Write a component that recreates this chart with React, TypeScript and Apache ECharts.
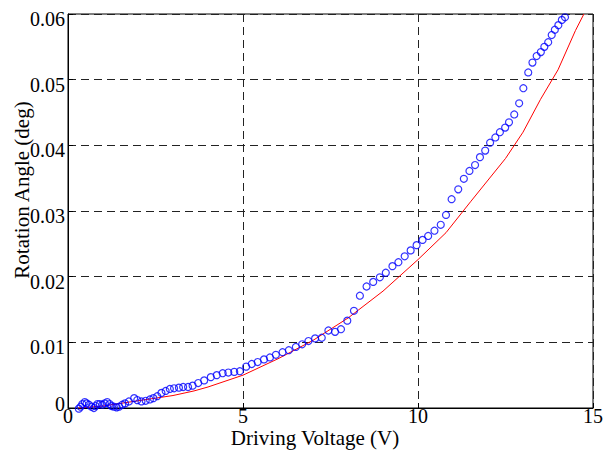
import React, { useEffect, useRef } from "react";
import * as echarts from "echarts";

const measuredX = [
  0.31, 0.36, 0.41, 0.48, 0.53, 0.6, 0.67, 0.74, 0.79, 0.84,
  0.91, 0.98, 1.05, 1.12, 1.19, 1.24, 1.31, 1.39, 1.46, 1.55,
  1.63, 1.74, 1.89, 1.98, 2.1, 2.22, 2.34, 2.44, 2.55, 2.67,
  2.79, 2.91, 3.03, 3.17, 3.29, 3.43, 3.56, 3.72, 3.89, 4.08,
  4.25, 4.42, 4.58, 4.75, 4.91, 5.09, 5.25, 5.42, 5.6, 5.77,
  5.94, 6.13, 6.31, 6.51, 6.69, 6.87, 7.06, 7.25, 7.44, 7.63,
  7.8, 7.98, 8.17, 8.34, 8.53, 8.72, 8.91, 9.08, 9.27, 9.44,
  9.62, 9.79, 9.96, 10.13, 10.29, 10.47, 10.65, 10.8, 10.96, 11.15,
  11.31, 11.47, 11.63, 11.77, 11.92, 12.06, 12.21, 12.34, 12.49, 12.6,
  12.75, 12.89, 13.01, 13.15, 13.27, 13.39, 13.51, 13.61, 13.72, 13.82,
  13.91, 14.01, 14.11, 14.2,
];
const measuredY = [
  -0.0001, 0.0002, 0.0006, 0.0009, 0.0007, 0.0005, 0.0002, 0.0, 0.0003, 0.0006,
  0.0006, 0.0005, 0.0007, 0.0009, 0.0006, 0.0003, 0.0002, 0.0001, 0.0002, 0.0005,
  0.0007, 0.001, 0.0015, 0.0012, 0.001, 0.0011, 0.0013, 0.0015, 0.0018, 0.0023,
  0.0026, 0.0029, 0.003, 0.0031, 0.0032, 0.0032, 0.0034, 0.0038, 0.0042, 0.0047,
  0.005, 0.0053, 0.0054, 0.0055, 0.0056, 0.0063, 0.0067, 0.007, 0.0074, 0.0077,
  0.0081, 0.0085, 0.0088, 0.0093, 0.0097, 0.0102, 0.0106, 0.0107, 0.0118, 0.0116,
  0.012, 0.0133, 0.0148, 0.0171, 0.0185, 0.0192, 0.0199, 0.0206, 0.0216, 0.0222,
  0.0231, 0.024, 0.0248, 0.0256, 0.0262, 0.027, 0.0279, 0.0294, 0.0318, 0.0333,
  0.0349, 0.0361, 0.037, 0.0382, 0.0392, 0.0404, 0.0412, 0.042, 0.0427, 0.0435,
  0.0447, 0.0464, 0.0487, 0.0511, 0.0526, 0.0536, 0.0542, 0.055, 0.0557, 0.0568,
  0.0576, 0.0583, 0.0591, 0.0595,
];

const modelX = [0.3, 1, 2, 3, 3.6, 4, 5, 6, 7, 8, 9, 10, 10.8, 11.5, 12.5, 13, 13.5, 14, 14.5, 14.74];
const modelY = [0, 0.0003, 0.0011, 0.0019, 0.0026, 0.0032, 0.005, 0.0075, 0.0103, 0.0137, 0.0178, 0.0226, 0.0267, 0.0314, 0.038, 0.042, 0.047, 0.0515, 0.0575, 0.06];

const xTicks = [0, 5, 10, 15];
const yTicks = [0, 0.01, 0.02, 0.03, 0.04, 0.05, 0.06];

const xTitle = "Driving Voltage (V)";
const yTitle = "Rotation Angle (deg)";

export default function App() {
  const ref = useRef<HTMLDivElement>(null);
  useEffect(() => {
    if (!ref.current) return;
    const chart = echarts.init(ref.current, null, { renderer: "svg" });
    const font = "'Liberation Serif', 'Times New Roman', serif";
    const gridLine = { show: true, lineStyle: { color: "#222", type: [8, 5] as any, width: 1 } };
    chart.setOption({
      animation: false,
      backgroundColor: "#fff",
      textStyle: { fontFamily: font },
      grid: {
        left: 68, right: 15, top: 14, bottom: 42,
        show: true, borderColor: "#000", borderWidth: 1, backgroundColor: "transparent",
      },
      xAxis: {
        type: "value",
        min: xTicks[0],
        max: xTicks[xTicks.length - 1],
        interval: 5,
        axisLine: { show: true, lineStyle: { color: "#000", width: 1 } },
        axisTick: { show: true, inside: true, length: 5, lineStyle: { color: "#000" } },
        axisLabel: { color: "#000", fontSize: 20, fontFamily: font, margin: -2 },
        splitLine: gridLine,
      },
      yAxis: {
        type: "value",
        min: yTicks[0],
        max: yTicks[yTicks.length - 1],
        interval: 0.01,
        axisLine: { show: true, lineStyle: { color: "#000", width: 1 } },
        axisTick: { show: true, inside: true, length: 5, lineStyle: { color: "#000" } },
        axisLabel: {
          color: "#000", fontSize: 20, fontFamily: font, margin: 3,
          formatter: (v: number) => (v === 0 ? "{z|0}" : `{n|${v.toFixed(2)}}`),
          rich: {
            n: { fontSize: 20, fontFamily: font, color: "#000", padding: [10, 0, 0, 0] },
            z: { fontSize: 20, fontFamily: font, color: "#000", padding: [0, 0, 9, 0] },
          },
        },
        splitLine: gridLine,
      },
      graphic: [
        {
          type: "text", x: 315, y: 448,
          style: { text: xTitle, font: `21px ${font}`, fill: "#000", align: "center", verticalAlign: "bottom" },
        },
        {
          type: "text", x: 22, y: 190, rotation: Math.PI / 2,
          style: { text: yTitle, font: `21px ${font}`, fill: "#000", align: "center", verticalAlign: "middle" },
        },
      ],
      series: [
        {
          type: "line",
          data: modelX.map((x, i) => [x, modelY[i]]),
          showSymbol: false,
          symbol: "none",
          lineStyle: { color: "#ff0000", width: 1 },
          z: 3,
        },
        {
          type: "scatter",
          data: measuredX.map((x, i) => [x, measuredY[i]]),
          symbol: "circle",
          symbolSize: 7,
          clip: false,
          itemStyle: { color: "transparent", borderColor: "#0000ff", borderWidth: 1.2 },
          z: 4,
        },
      ],
    });
    return () => chart.dispose();
  }, []);
  return <div ref={ref} style={{ width: 608, height: 450, position: "absolute", left: 0, top: 0 }} />;
}
